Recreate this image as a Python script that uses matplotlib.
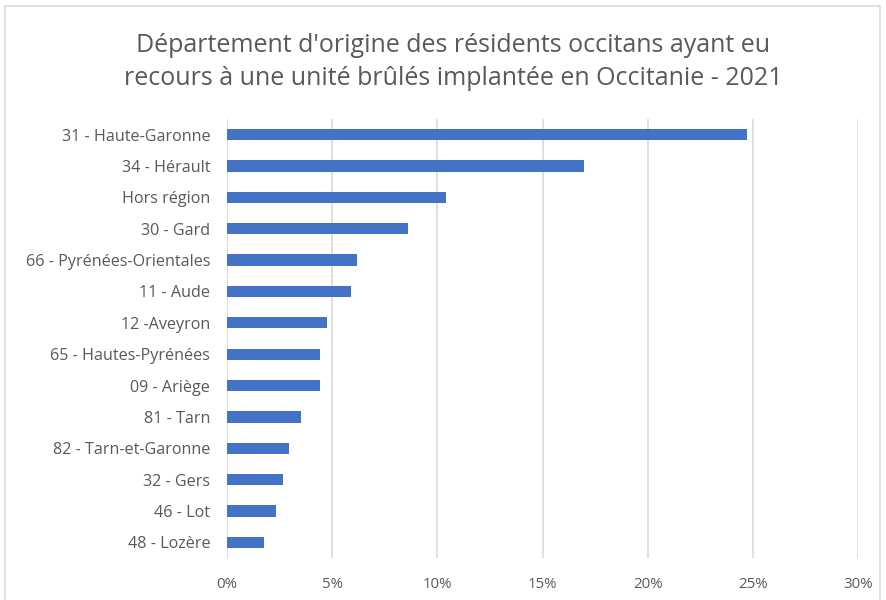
import matplotlib
matplotlib.use("Agg")
import matplotlib.pyplot as plt
from matplotlib.patches import Rectangle
from matplotlib.ticker import PercentFormatter

# ── data (top to bottom as in the chart) ─────────────────────────────────────
departements = [
    "31 - Haute-Garonne", "34 - Hérault", "Hors région", "30 - Gard",
    "66 - Pyrénées-Orientales", "11 - Aude", "12 -Aveyron",
    "65 - Hautes-Pyrénées", "09 - Ariège", "81 - Tarn",
    "82 - Tarn-et-Garonne", "32 - Gers", "46 - Lot", "48 - Lozère",
]
parts = [24.7, 16.95, 10.4, 8.6, 6.2, 5.9, 4.75, 4.4, 4.4, 3.5, 2.95, 2.65, 2.35, 1.75]
title = ("Département d'origine des résidents occitans ayant eu\n"
         "recours à une unité brûlés implantée en Occitanie - 2021")

plt.rcParams["font.family"] = ["Open Sans", "DejaVu Sans"]
grey = "#595959"

fig = plt.figure(figsize=(8.86, 6.0), dpi=100)
W, H = 886, 600
ax = fig.add_axes([227 / W, 1 - 558 / H, (858 - 227) / W, (558 - 119) / H])

pos = list(range(len(departements)))[::-1]
ax.barh(pos, parts, height=0.36, color="#4472C4", zorder=3)
ax.set_yticks(pos)
ax.set_yticklabels(departements)
ax.set_ylim(-0.5, len(departements) - 0.5)
ax.set_xlim(0, 30)
ax.set_xticks([0, 5, 10, 15, 20, 25, 30])
ax.xaxis.set_major_formatter(PercentFormatter(decimals=0))
ax.grid(axis="x", color="#d9d9d9", linewidth=1.2, zorder=0)
for s in ax.spines.values():
    s.set_visible(False)
ax.tick_params(axis="both", length=0, labelcolor=grey)
ax.tick_params(axis="y", pad=12, labelsize=11.6)
ax.tick_params(axis="x", pad=14, labelsize=10.8)

fig.text(453 / W, 1 - 62 / H, title, ha="center", va="center",
         fontsize=18, color=grey, linespacing=1.45)

# chart frame
fig.patches.append(Rectangle((5 / W, -0.05), 875 / W, 1.05 - 6 / H,
                             transform=fig.transFigure, fill=False,
                             edgecolor="#d9d9d9", linewidth=1.2))

fig.savefig("out.png", dpi=100)
